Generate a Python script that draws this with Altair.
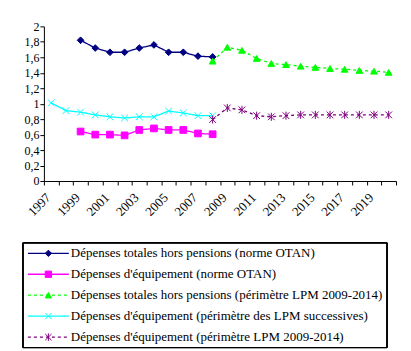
import altair as alt
import pandas as pd

series_names = [
    "Dépenses totales hors pensions (norme OTAN)",
    "Dépenses d'équipement (norme OTAN)",
    "Dépenses totales hors pensions (périmètre LPM 2009-2014)",
    "Dépenses d'équipement (périmètre des LPM successives)",
    "Dépenses d'équipement (périmètre LPM 2009-2014)",
]

years_otan = list(range(1999, 2009))
totales_otan = [1.82, 1.72, 1.665, 1.665, 1.72, 1.76, 1.665, 1.665, 1.615, 1.605]
equip_otan = [0.64, 0.60, 0.60, 0.59, 0.66, 0.68, 0.66, 0.66, 0.615, 0.605]

years_lpm = list(range(2008, 2021))
totales_lpm = [1.55, 1.73, 1.69, 1.585, 1.52, 1.505, 1.485, 1.47, 1.455, 1.445, 1.43, 1.42, 1.405]
equip_lpm = [0.795, 0.945, 0.92, 0.845, 0.83, 0.845, 0.855, 0.855, 0.855, 0.855, 0.855, 0.855, 0.855]

years_succ = list(range(1997, 2009))
equip_succ = [1.01, 0.91, 0.89, 0.855, 0.83, 0.815, 0.83, 0.83, 0.905, 0.88, 0.845, 0.845]

colors = ["#000080", "#FF00FF", "#00FF00", "#00FFFF", "#800080"]
dashes = [[1, 0], [1, 0], [3, 3], [1, 0], [3, 3]]
shapes = [
    "diamond",
    "square",
    "triangle-up",
    "M-1,-1L1,1M-1,1L1,-1",
    "M-1,-1L1,1M-1,1L1,-1M0,-1.2L0,1.2",
]

FONT = "Liberation Serif, Times New Roman, serif"

rows = []
for name, yrs, vals in [
    (series_names[0], years_otan, totales_otan),
    (series_names[1], years_otan, equip_otan),
    (series_names[2], years_lpm, totales_lpm),
    (series_names[3], years_succ, equip_succ),
    (series_names[4], years_lpm, equip_lpm),
]:
    for y, v in zip(yrs, vals):
        rows.append({"annee": y, "valeur": v, "serie": name})
df = pd.DataFrame(rows)

col_scale = alt.Scale(domain=series_names, range=colors)
dash_scale = alt.Scale(domain=series_names, range=dashes)
shape_scale = alt.Scale(domain=series_names, range=shapes)

x_ticks = [1996.5 + i for i in range(25)]
y_ticks = [round(0.2 * i, 1) for i in range(11)]

x_enc = alt.X(
    "annee:Q",
    scale=alt.Scale(domain=[1996.5, 2020.5], nice=False, zero=False),
    axis=alt.Axis(
        values=x_ticks,
        title=None,
        grid=False,
        labelOffset=0,
        labelAngle=-45,
        labelAlign="right",
        labelBaseline="top",
        labelPadding=6,
        labelFontSize=13,
        labelOverlap=False,
        labelExpr="((datum.value + 0.5) % 2 == 1 && datum.value < 2020) ? format(datum.value + 0.5, 'd') : ''",
        tickSize=4,
    ),
)
y_enc = alt.Y(
    "valeur:Q",
    scale=alt.Scale(domain=[0, 2], nice=False),
    axis=alt.Axis(
        values=y_ticks,
        title=None,
        grid=False,
        format="~g",
        labelExpr="replace(datum.label, '.', ',')",
        tickSize=4,
        labelPadding=1,
    ),
)

lines = alt.Chart(df).mark_line(strokeWidth=1.3).encode(
    x=x_enc,
    y=y_enc,
    color=alt.Color("serie:N", scale=col_scale, legend=None),
    strokeDash=alt.StrokeDash("serie:N", scale=dash_scale, legend=None),
)
points = alt.Chart(df).mark_point(filled=True, opacity=1, size=45, strokeWidth=1).encode(
    x=x_enc,
    y=y_enc,
    fill=alt.Fill("serie:N", scale=col_scale, legend=None),
    stroke=alt.Stroke("serie:N", scale=col_scale, legend=None),
    shape=alt.Shape("serie:N", scale=shape_scale, legend=None),
)
main = alt.layer(lines, points).properties(width=353, height=155)

leg_df = pd.DataFrame({"serie": series_names})
ly = alt.Y("serie:N", scale=alt.Scale(type="point", domain=series_names, padding=0.5), axis=None)
box = alt.Chart(leg_df).mark_rect(fill="transparent", stroke="black", strokeWidth=1).encode(
    x=alt.value(-21), x2=alt.value(344), y=alt.value(0), y2=alt.value(105)
)
leg_rule = alt.Chart(leg_df).mark_rule(strokeWidth=1.3).encode(
    x=alt.value(-16), x2=alt.value(25), y=ly,
    color=alt.Color("serie:N", scale=col_scale, legend=None),
    strokeDash=alt.StrokeDash("serie:N", scale=dash_scale, legend=None),
)
leg_pt = alt.Chart(leg_df).mark_point(filled=True, opacity=1, size=40, strokeWidth=1).encode(
    x=alt.value(4.5), y=ly,
    fill=alt.Fill("serie:N", scale=col_scale, legend=None),
    stroke=alt.Stroke("serie:N", scale=col_scale, legend=None),
    shape=alt.Shape("serie:N", scale=shape_scale, legend=None),
)
leg_txt = alt.Chart(leg_df).mark_text(align="left", baseline="middle", fontSize=13, color="black",
                                      font=FONT).encode(
    x=alt.value(27), y=ly, text="serie:N"
)
legend = alt.layer(box, leg_rule, leg_pt, leg_txt).properties(width=344, height=105)

chart = alt.vconcat(main, legend, spacing=23).properties(
    padding={"left": 22, "top": 20, "right": 5, "bottom": 5}
).configure(font=FONT).configure_view(strokeWidth=0).configure_axis(
    domainColor="black", tickColor="black", labelColor="black",
    labelFont=FONT, labelFontSize=12,
)

chart.save("out.html", embed_options={"renderer": "svg", "actions": False})
